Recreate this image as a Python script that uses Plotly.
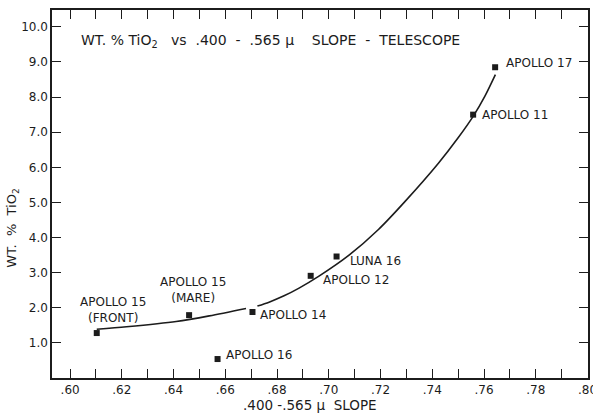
import plotly.graph_objects as go

# Data points (slope, wt% TiO2)
sites = ["APOLLO 15 (FRONT)", "APOLLO 15 (MARE)", "APOLLO 14", "APOLLO 16",
         "APOLLO 12", "LUNA 16", "APOLLO 11", "APOLLO 17"]
slope = [0.6103, 0.646, 0.6705, 0.657, 0.693, 0.703, 0.7558, 0.7643]
tio2 = [1.28, 1.79, 1.88, 0.54, 2.91, 3.46, 7.50, 8.85]

# Hand-drawn fit curve (two segments, broken at Apollo 14)
curve1_x = [0.6103, 0.6218, 0.6410, 0.6538, 0.6680]
curve1_y = [1.39, 1.46, 1.61, 1.77, 1.98]
curve2_x = [0.6724, 0.6769, 0.6827, 0.6885, 0.6962, 0.7077, 0.7192, 0.7295, 0.7423, 0.7500, 0.7558, 0.7603, 0.7644]
curve2_y = [2.05, 2.16, 2.34, 2.56, 2.90, 3.49, 4.23, 5.03, 6.11, 6.84, 7.45, 8.02, 8.64]

# Tick labels
x_tickvals = [round(0.60 + 0.01 * i, 2) for i in range(21)]
x_ticktext = [("." + f"{v:.2f}"[2:]) if i % 2 == 0 else "" for i, v in enumerate(x_tickvals)]
y_tickvals = [1, 2, 3, 4, 5, 6, 7, 8, 9, 10]
y_ticktext = [f"{v:.1f}" for v in y_tickvals]

INK = "#1c1c1c"
FONT = "DejaVu Sans"
SP = "&nbsp;"

fig = go.Figure()
for cx, cy in ((curve1_x, curve1_y), (curve2_x, curve2_y)):
    fig.add_trace(go.Scatter(x=cx, y=cy, mode="lines",
                             line=dict(color=INK, width=1.6, shape="spline", smoothing=0.8),
                             hoverinfo="skip", showlegend=False))
fig.add_trace(go.Scatter(x=slope, y=tio2, mode="markers", text=sites,
                         marker=dict(symbol="square", size=6, color=INK), showlegend=False))

# Point labels: (text, anchor point index, xshift, yshift, xanchor)
labels = [
    ("APOLLO 15<br>(FRONT)", 0, 16, 23, "center"),
    ("APOLLO 15<br>(MARE)", 1, 4, 25, "center"),
    ("APOLLO 14", 2, 6, -3, "left"),
    ("APOLLO 16", 3, 6, 4, "left"),
    ("APOLLO 12", 4, 10, -4, "left"),
    ("LUNA 16", 5, 11, -4, "left"),
    ("APOLLO 11", 6, 7, 0, "left"),
    ("APOLLO 17", 7, 9, 4, "left"),
]
for txt, i, xs, ys, xa in labels:
    fig.add_annotation(x=slope[i], y=tio2[i], text=txt, showarrow=False, xanchor=xa, yanchor="middle",
                       xshift=xs, yshift=ys, font=dict(family=FONT, size=12, color=INK), align="center")

title_txt = ("WT." + SP + "%" + SP + "TiO<sub>2</sub>" + SP * 3 + "vs" + SP * 2 + ".400" + SP * 2 + "-" + SP * 2
             + ".565" + SP + "μ" + SP * 4 + "SLOPE" + SP * 2 + "-" + SP * 2 + "TELESCOPE")
fig.add_annotation(xref="paper", yref="paper", x=0.05, y=0.915, xanchor="left", yanchor="middle",
                   text=title_txt, showarrow=False, font=dict(family=FONT, size=14, color=INK))
fig.add_annotation(xref="paper", yref="paper", x=0.481, y=-0.073, xanchor="center", yanchor="middle",
                   text=".400" + SP + "-.565" + SP + "μ" + SP * 2 + "SLOPE", showarrow=False,
                   font=dict(family=FONT, size=13.5, color=INK))
fig.add_annotation(xref="paper", yref="paper", x=-0.073, y=0.408, xanchor="center", yanchor="middle",
                   text="WT." + SP * 2 + "%" + SP * 2 + "TiO<sub>2</sub>", textangle=-90, showarrow=False,
                   font=dict(family=FONT, size=13, color=INK))

axis_common = dict(showgrid=False, zeroline=False, showline=True, linecolor=INK, linewidth=1.5,
                   mirror="ticks", ticks="inside", ticklen=9, tickcolor=INK, tickwidth=1.2,
                   automargin=False, ticklabeloverflow="allow",
                   tickfont=dict(family=FONT, size=12, color=INK))
fig.update_xaxes(range=[0.593, 0.8002], tickmode="array", tickvals=x_tickvals, ticktext=x_ticktext, **axis_common)
fig.update_yaxes(range=[0, 10.48], tickmode="array", tickvals=y_tickvals, ticktext=y_ticktext, **axis_common)

fig.update_layout(width=593, height=413, margin=dict(l=52, r=5, t=10, b=35, autoexpand=False),
                  plot_bgcolor="white", paper_bgcolor="white", font=dict(family=FONT, color=INK))
fig.write_html("out.html", config={"displayModeBar": False},
               post_script="document.body.style.margin='0';document.body.style.padding='0';"
                           "document.body.style.overflow='hidden';")
